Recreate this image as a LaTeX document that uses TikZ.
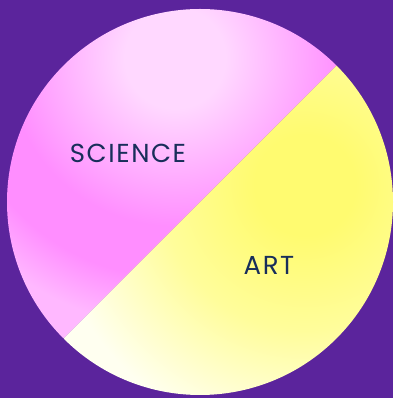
\documentclass[tikz,border=0pt]{standalone}
\usepackage{fontspec}
\setmainfont{Poppins}
\usepackage{xcolor}
\definecolor{bgpurple}{RGB}{91,36,156}
\definecolor{pinklight}{RGB}{255,216,255}
\definecolor{pinkdeep}{RGB}{255,142,255}
\definecolor{pinksoft}{RGB}{255,184,255}
\definecolor{yellowdeep}{RGB}{255,251,112}
\definecolor{yellowmid}{RGB}{255,253,155}
\definecolor{yellowpale}{RGB}{255,255,240}
\definecolor{labelnavy}{RGB}{24,46,90}
% glow shadings (inner 50bp square mapped onto 560pt)
\pgfdeclareradialshading{pinkglow}{\pgfpointorigin}{%
  color(0bp)=(pinklight);
  color(4.5bp)=(pinklight);
  color(15bp)=(pinkdeep);
  color(19.6bp)=(pinkdeep);
  color(24bp)=(pinksoft);
  color(50bp)=(pinksoft)}
\pgfdeclareradialshading{yellowglow}{\pgfpointorigin}{%
  color(0bp)=(yellowdeep);
  color(4.5bp)=(yellowdeep);
  color(13bp)=(yellowmid);
  color(23bp)=(yellowpale);
  color(50bp)=(yellowpale)}
\tikzset{
  half label/.style={
    text=labelnavy,
    font=\fontsize{26}{26}\selectfont\addfontfeatures{LetterSpace=6},
    inner sep=0pt
  }
}
\begin{document}
\begin{tikzpicture}[x=1pt, y=1pt]

  % Background
  \fill[bgpurple] (0,0) rectangle (393,398);
  \useasboundingbox (0,0) rectangle (393,398);

  \coordinate (mid) at (200,196);

  % Science half
  \begin{scope}
    \clip (mid) -- ++(45:193) arc[start angle=45, end angle=225, radius=193] -- cycle;
    \shade[shading=pinkglow] (175-280,340-280) rectangle (175+280,340+280);
  \end{scope}

  % Art half
  \begin{scope}
    \clip (mid) -- ++(225:193) arc[start angle=225, end angle=405, radius=193] -- cycle;
    \shade[shading=yellowglow] (305-280,213-280) rectangle (305+280,213+280);
  \end{scope}

  % Labels
  \node[half label] (science) at (128,245) {SCIENCE};
  \node[half label] (art) at (269,133) {ART};

\end{tikzpicture}
\end{document}
